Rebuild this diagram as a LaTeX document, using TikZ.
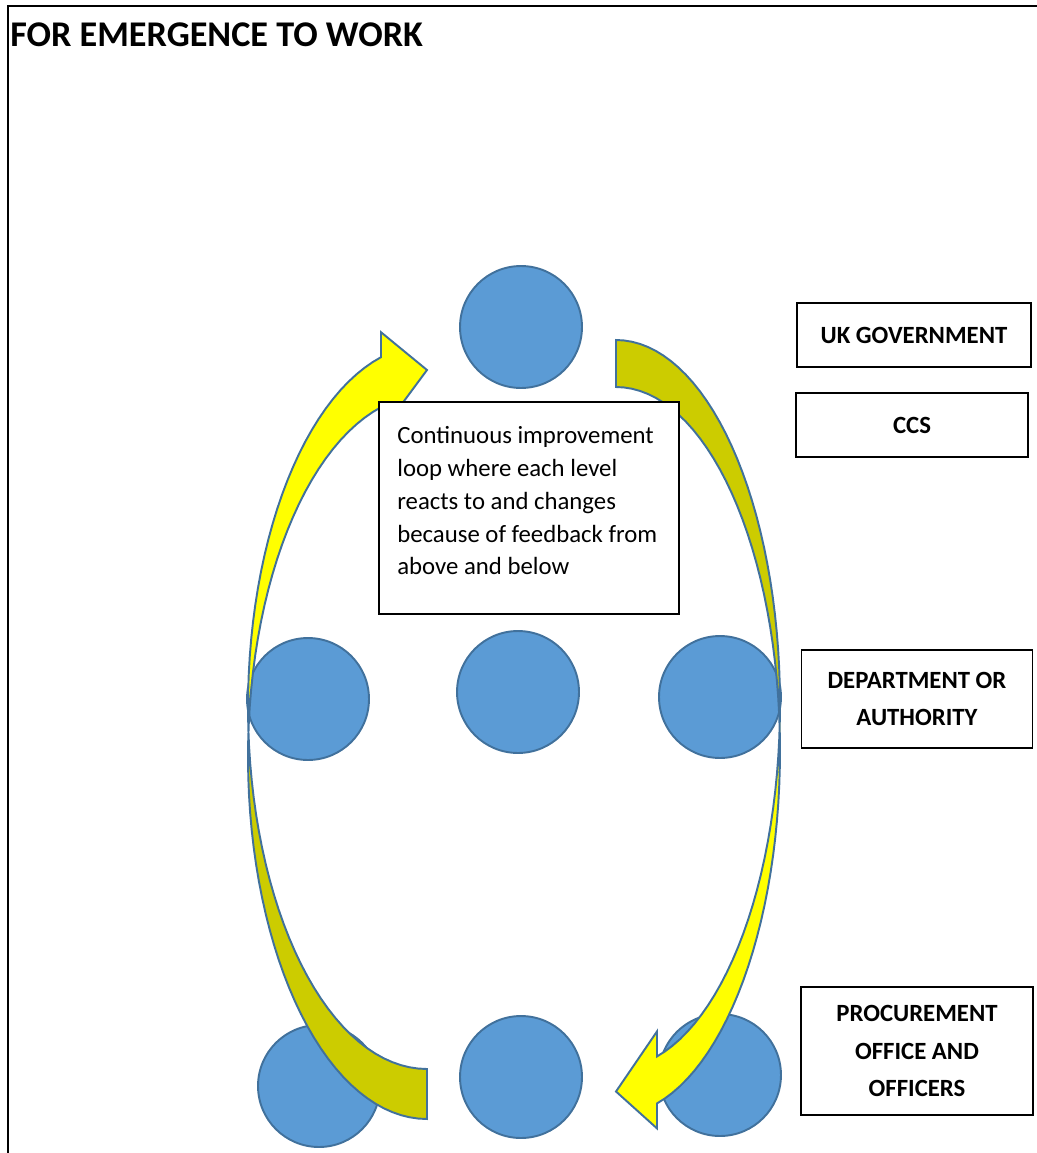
\documentclass[tikz,border=0pt]{standalone}
\usepackage{fontspec}
\setmainfont{Carlito}
\definecolor{dotfill}{HTML}{5B9BD5}
\definecolor{dotline}{HTML}{41719C}
\definecolor{arrowlit}{HTML}{FFFF00}
\definecolor{arrowshade}{HTML}{CCCC00}

% geometry of the rising loop arrow (left): two equal ellipses, offset vertically
\def\Lcx{427}\def\Lrx{179}\def\Lry{362}\def\LyA{757}\def\LyB{707}\def\Lneck{255.11}
% geometry of the falling loop arrow (right)
\def\Rcx{616}\def\Rrx{164}\def\Rry{364}\def\RyC{704}\def\RyD{751}\def\Rneck{75.52}

\begin{document}
\begin{tikzpicture}[x=0.02cm, y=-0.02cm,
  dot/.style={circle, fill=dotfill, draw=dotline, line width=1.1pt,
              minimum size=2.44cm, inner sep=0},
  labelbox/.style={draw=black, line width=0.8pt, fill=white, align=center,
              font=\fontsize{14.1}{21.5}\selectfont\bfseries, inner sep=0},
  notebox/.style={draw=black, line width=0.8pt, fill=white,
              minimum width=6cm, minimum height=4.24cm, inner sep=0},
  notetext/.style={align=left, font=\fontsize{14.1}{18.7}\selectfont, inner sep=0},
  arrowline/.style={draw=dotline, line width=1.1pt},
  ellsmp/.style={samples=60, variable=\t}
]
\useasboundingbox (0,0) rectangle (1037,1153);

% page frame
\draw[line width=1.2pt] (1045,6) -- (8,6) -- (8,1160);

% title
\node[anchor=base west, inner sep=0, font=\fontsize{20.6}{24}\selectfont\bfseries]
  (title) at (10,46) {FOR EMERGENCE TO WORK};

% the organisation dots
\node[dot] (top) at (521,327) {};
\node[dot] (midL) at (308,699) {};
\node[dot] (midC) at (518,692) {};
\node[dot] (midR) at (720,697) {};
\node[dot] (botL) at (319,1086) {};
\node[dot] (botC) at (521,1077) {};
\node[dot] (botR) at (720,1075) {};

% rising loop arrow on the left
\fill[arrowshade]
  plot[ellsmp, domain=90:180] ({\Lcx+\Lrx*cos(\t)},{\LyA+\Lry*sin(\t)})
  -- plot[ellsmp, domain=180:90] ({\Lcx+\Lrx*cos(\t)},{\LyB+\Lry*sin(\t)}) -- cycle;
\fill[arrowlit]
  plot[ellsmp, domain=180:\Lneck] ({\Lcx+\Lrx*cos(\t)},{\LyA+\Lry*sin(\t)})
  -- (381,432.2) -- (427,370) -- (381,332.2)
  -- plot[ellsmp, domain=\Lneck:180] ({\Lcx+\Lrx*cos(\t)},{\LyB+\Lry*sin(\t)}) -- cycle;
\draw[arrowline]
  plot[ellsmp, domain=90:\Lneck] ({\Lcx+\Lrx*cos(\t)},{\LyA+\Lry*sin(\t)})
  -- (381,432.2) -- (427,370) -- (381,332.2)
  -- plot[ellsmp, domain=\Lneck:90] ({\Lcx+\Lrx*cos(\t)},{\LyB+\Lry*sin(\t)}) -- cycle;

% falling loop arrow on the right
\fill[arrowshade]
  plot[ellsmp, domain=-90:0] ({\Rcx+\Rrx*cos(\t)},{\RyC+\Rry*sin(\t)})
  -- plot[ellsmp, domain=0:-90] ({\Rcx+\Rrx*cos(\t)},{\RyD+\Rry*sin(\t)}) -- cycle;
\fill[arrowlit]
  plot[ellsmp, domain=0:\Rneck] ({\Rcx+\Rrx*cos(\t)},{\RyC+\Rry*sin(\t)})
  -- (657,1031.4) -- (616,1091.5) -- (657,1128.4)
  -- plot[ellsmp, domain=\Rneck:0] ({\Rcx+\Rrx*cos(\t)},{\RyD+\Rry*sin(\t)}) -- cycle;
\draw[arrowline]
  plot[ellsmp, domain=-90:\Rneck] ({\Rcx+\Rrx*cos(\t)},{\RyC+\Rry*sin(\t)})
  -- (657,1031.4) -- (616,1091.5) -- (657,1128.4)
  -- plot[ellsmp, domain=\Rneck:-90] ({\Rcx+\Rrx*cos(\t)},{\RyD+\Rry*sin(\t)}) -- cycle;

% explanatory note
\node[notebox] (note) at (529,508) {};
\node[notetext, anchor=north west] (notetext) at (397,426)
  {Continuous improvement\\loop where each level\\reacts to and changes\\because of feedback from\\above and below};

% level labels
\node[labelbox, minimum width=4.68cm, minimum height=1.28cm] (ukgov) at (914,335) {UK GOVERNMENT};
\node[labelbox, minimum width=4.64cm, minimum height=1.28cm] (ccs) at (912,425) {CCS};
\node[labelbox, minimum width=4.62cm, minimum height=1.96cm] (dept) at (917,699) {DEPARTMENT OR\\AUTHORITY};
\node[labelbox, minimum width=4.64cm, minimum height=2.56cm] (proc) at (917,1051) {PROCUREMENT\\OFFICE AND\\OFFICERS};
\end{tikzpicture}
\end{document}
